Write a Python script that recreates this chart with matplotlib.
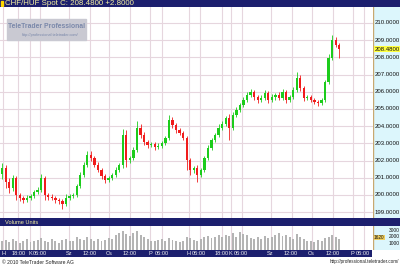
import matplotlib
matplotlib.use("Agg")
import matplotlib.pyplot as plt
from matplotlib.patches import Rectangle

plt.rcParams['font.family'] = ['Liberation Sans', 'DejaVu Sans']

# ---- data ----
open0 = 201.2
closes = [201.57, 200.76, 200.41, 200.99, 200.00, 199.83, 199.71, 199.83, 199.94, 200.17,
          200.29, 200.99, 200.00, 199.88, 199.83, 199.71, 199.65, 199.48, 199.83, 199.94,
          200.00, 200.52, 201.16, 201.74, 202.33, 202.15, 201.74, 201.45, 201.10, 200.87,
          200.99, 201.16, 201.45, 201.74, 203.49, 202.03, 202.15, 202.62, 203.90, 203.49,
          203.08, 202.91, 202.97, 202.79, 202.85, 203.02, 203.31, 204.36, 204.07, 203.78,
          203.60, 203.31, 202.03, 201.45, 201.57, 201.16, 201.45, 202.15, 202.73, 203.20,
          203.49, 203.90, 204.13, 204.48, 203.90, 204.65, 204.94, 205.23, 205.52, 205.81,
          205.99, 205.70, 205.52, 205.64, 205.93, 205.52, 205.70, 205.81, 205.64, 205.99,
          205.52, 205.70, 206.10, 206.80, 206.22, 205.64, 205.70, 205.52, 205.41, 205.35,
          205.52, 206.57, 207.97, 209.01, 208.72, 208.48]
upper_wick = [0.3, 0.15, 0.2, 0.15, 0.1, 0.1, 0.1, 0.15, 0.1, 0.1,
              0.15, 0.25, 0.1, 0.1, 0.15, 0.1, 0.1, 0.1, 0.2, 0.1,
              0.1, 0.1, 0.15, 0.2, 0.25, 0.2, 0.1, 0.15, 0.1, 0.1,
              0.1, 0.1, 0.15, 0.1, 0.35, 0.3, 0.1, 0.15, 0.4, 0.2,
              0.15, 0.1, 0.1, 0.1, 0.15, 0.1, 0.1, 0.3, 0.2, 0.1,
              0.1, 0.1, 0.1, 0.1, 0.1, 0.15, 0.1, 0.1, 0.15, 0.1,
              0.1, 0.2, 0.15, 0.1, 0.2, 0.15, 0.2, 0.1, 0.15, 0.2,
              0.15, 0.1, 0.1, 0.15, 0.2, 0.1, 0.15, 0.1, 0.2, 0.2,
              0.1, 0.1, 0.15, 0.35, 0.15, 0.1, 0.1, 0.1, 0.1, 0.1,
              0.1, 0.1, 0.2, 0.3, 0.2, 0.1]
lower_wick = [0.3, 0.35, 0.3, 0.2, 0.3, 0.2, 0.15, 0.1, 0.1, 0.1,
              0.1, 0.1, 0.3, 0.2, 0.1, 0.2, 0.2, 0.3, 0.1, 0.1,
              0.1, 0.1, 0.1, 0.1, 0.1, 0.2, 0.1, 0.1, 0.2, 0.15,
              0.1, 0.1, 0.1, 0.1, 0.15, 0.4, 0.15, 0.1, 0.1, 0.2,
              0.15, 0.2, 0.1, 0.15, 0.1, 0.1, 0.1, 0.1, 0.15, 0.15,
              0.1, 0.1, 0.6, 0.3, 0.2, 0.4, 0.1, 0.1, 0.1, 0.1,
              0.1, 0.1, 0.1, 0.1, 0.7, 0.1, 0.1, 0.1, 0.1, 0.1,
              0.1, 0.15, 0.2, 0.1, 0.1, 0.2, 0.1, 0.15, 0.1, 0.1,
              0.2, 0.1, 0.1, 0.1, 0.15, 0.2, 0.1, 0.1, 0.1, 0.15,
              0.1, 0.1, 0.1, 0.1, 0.1, 0.5]
volume = [1300, 1500, 1200, 1700, 1400, 1100, 1300, 1600, 1200, 1400,
          1500, 1800, 1300, 1200, 1600, 1400, 1100, 1500, 1700, 1300,
          1400, 1900, 1600, 1500, 2000, 1700, 1400, 1600, 1300, 1500,
          1800, 1700, 2200, 2600, 2900, 2400, 2100, 2500, 2800, 2300,
          1900, 1600, 1400, 1300, 1500, 1700, 1400, 1800, 1500, 1300,
          1200, 1400, 2000, 1800, 1500, 1300, 1600, 1900, 2100, 1800,
          2000, 2200, 1900, 2300, 2100, 2500, 2000, 2700, 2400, 2200,
          1800, 1600, 1900, 1700, 2100, 1800, 2000, 2300, 2600, 2100,
          2200, 2000, 1700, 2400, 1900, 1600, 1400, 1300, 1200, 1500,
          1400, 1800, 2000, 2200, 1900, 1620]
price_ticks = [199, 200, 201, 202, 203, 204, 205, 206, 207, 208, 209, 210]
vol_ticks = [1000, 2000, 3000]
time_labels = ["H", "18:00", "K", "06:00", "Sz", "12:00", "Cs", "12:00", "P", "06:00", "H",
               "06:00", "18:00", "K", "06:00", "Sz", "12:00", "Cs", "12:00", "P", "06:00"]
time_pos = [0.35, 4.57, 7.95, 10.77, 18.94, 24.85, 30.2, 36.1, 41.75, 45.0, 52.74,
            55.7, 61.9, 64.6, 67.5, 75.8, 81.6, 87.4, 93.3, 98.9, 101.9]
title = "CHF/HUF Spot C: 208.4800 +2.8000"
last_price = 208.48

W, H = 400, 266
NAVY = "#1c1f6e"
CYAN = "#dcf6fc"
GRID = "#e6d6de"
FS = 4.1

def box(x0, y0, x1, y1):
    # pixel box (top-left origin) -> figure fraction
    return [x0 / W, 1 - y1 / H, (x1 - x0) / W, (y1 - y0) / H]

fig = plt.figure(figsize=(4, 2.66), dpi=100)
fig.patch.set_facecolor("white")
xlim = (-0.6, 104.5)

def bare(ax, color):
    ax.set_facecolor(color)
    ax.set_xticks([])
    ax.set_yticks([])
    for s in ax.spines.values():
        s.set_visible(False)

# title bar
tb = fig.add_axes(box(0, 0, 400, 7))
bare(tb, NAVY)
tb.add_patch(Rectangle((0.002, 0.15), 0.006, 0.7, color="#ffd700", transform=tb.transAxes))
tb.text(0.012, 0.45, title, color="#f4f0a0", fontsize=5.7, va="center", transform=tb.transAxes)

# main price panel
ax = fig.add_axes(box(0, 7, 373, 218))
bare(ax, "white")
ax.set_xlim(*xlim)
ax.set_ylim(198.66, 210.93)
for p in price_ticks:
    ax.axhline(p, color=GRID, lw=0.8, zorder=0)
for t in time_pos:
    ax.axvline(t, color=GRID, lw=0.8, zorder=0)

opens = [open0] + closes[:-1]
for i, (o, c, uw, lw) in enumerate(zip(opens, closes, upper_wick, lower_wick)):
    col = "#1ccc1c" if c >= o else "#f01c1c"
    hi = max(o, c) + uw
    lo = min(o, c) - lw
    ax.vlines(i, lo, hi, color=col, lw=0.6, zorder=2)
    ax.bar(i, max(abs(c - o), 0.03), bottom=min(o, c), width=0.65, color=col, zorder=3)

# watermark
ax.add_patch(Rectangle((7 / 373, 1 - 33 / 211), 79 / 373, 21 / 211, color="#c9c9d2",
                       transform=ax.transAxes, zorder=1))
ax.text(47 / 373, 1 - 19 / 211, "TeleTrader Professional", color="#7a88aa", fontsize=4.9,
        fontweight="bold", ha="center", va="center", transform=ax.transAxes, zorder=2)
ax.text(50 / 373, 1 - 28 / 211, "http://professional.teletrader.com/", color="#7a88aa",
        fontsize=2.8, ha="center", va="center", transform=ax.transAxes, zorder=2)

# right price scale
rp = fig.add_axes(box(373, 7, 400, 218))
bare(rp, CYAN)
rp.set_ylim(198.66, 210.93)
rp.set_xlim(0, 1)
rp.axvline(0, color="#c8a870", lw=1)
for p in price_ticks:
    rp.text(0.06, p, "%.4f" % p, fontsize=4.3, va="center", color="#111111")
rp.text(0.06, last_price, "%.4f" % last_price, fontsize=4.3, va="center", color="#111111",
        bbox=dict(boxstyle="square,pad=0.1", fc="#ffff40", ec="none"))

# volume header
vh = fig.add_axes(box(0, 218, 400, 226))
bare(vh, NAVY)
vh.text(0.012, 0.45, "Volume Units", color="#f4f0a0", fontsize=FS, va="center",
        transform=vh.transAxes)

# volume panel
vax = fig.add_axes(box(0, 226, 373, 250))
bare(vax, "white")
vax.set_xlim(*xlim)
vax.set_ylim(0, 3600)
for t in time_pos:
    vax.axvline(t, color=GRID, lw=0.8, zorder=0)
vax.bar(range(len(volume)), volume, width=0.55, color="#b4b4b4", zorder=2)

vp = fig.add_axes(box(373, 226, 400, 250))
bare(vp, CYAN)
vp.set_ylim(0, 3600)
vp.set_xlim(0, 1)
vp.axvline(0, color="#c8a870", lw=1)
for v in vol_ticks:
    vp.text(0.98, v, str(v), fontsize=3.5, va="center", ha="right", color="#111111")
vp.text(0.03, volume[-1] + 250, str(volume[-1]), fontsize=3.4, va="center", color="#111111",
        bbox=dict(boxstyle="square,pad=0.05", fc="#f0d060", ec="none"))

# time axis bar
tx = fig.add_axes(box(0, 250, 372, 257))
bare(tx, NAVY)
tx.set_xlim(*xlim)
tx.set_ylim(0, 1)
for lab, t in zip(time_labels, time_pos):
    tx.text(t, 0.45, lab, color="#f0f0f0", fontsize=FS, va="center", ha="center")

# footer
fig.text(2 / W, 1 - 262 / H, "\u00a9 2010 TeleTrader Software AG", fontsize=3.6,
         va="center", color="#222222")
fig.text(399 / W, 1 - 262 / H, "http://professional.teletrader.com/", fontsize=3.3,
         va="center", ha="right", color="#222222")

fig.savefig("out.png", dpi=100)
